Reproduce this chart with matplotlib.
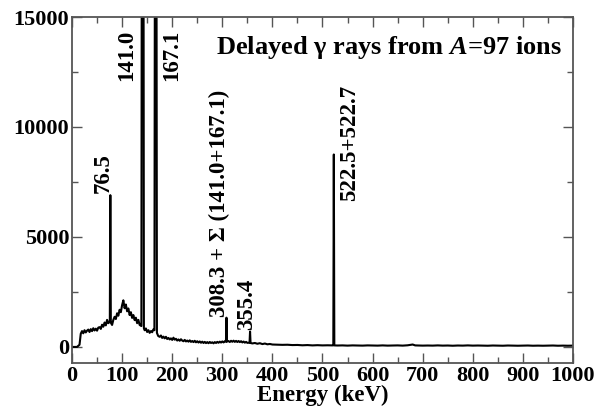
import numpy as np
import matplotlib
matplotlib.use("Agg")
import matplotlib.pyplot as plt
from matplotlib.ticker import MultipleLocator

plt.rcParams["font.family"] = ["Liberation Serif", "DejaVu Serif"]
plt.rcParams["font.weight"] = "bold"
plt.rcParams["mathtext.fontset"] = "custom"
plt.rcParams["mathtext.rm"] = "Liberation Serif:bold"
plt.rcParams["mathtext.it"] = "Liberation Serif:italic:bold"

# spectrum (keV, counts); peaks above 15000 are clipped
energy_low = [0, 5, 10, 15, 17.5, 20, 22.5, 25, 27.5, 30, 32.5, 35, 37.5, 40,
              42.5, 45, 47.5, 50, 52.5, 55, 57.5, 60, 62.5, 65, 67.5, 70, 72.5,
              75.5, 76.5, 77.5, 80, 82.5, 85, 87.5, 90, 92.5, 95, 97.5, 100,
              102.5, 105, 107.5, 110, 112.5, 115, 117.5, 120, 122.5, 125,
              127.5, 130, 132.5, 135, 138.5, 141.0, 143.5, 145, 147.5, 150,
              152.5, 155, 157.5, 160, 162.5, 164.5, 167.1, 169.5, 172, 175,
              177.5, 180, 182.5, 185, 187.5, 190, 192.5, 195, 197.5, 200]
counts_low = [0, 0, 0, 100, 600, 720, 620, 760, 660, 740, 790, 680, 810, 720,
              850, 750, 830, 740, 880, 900, 820, 1010, 920, 1110, 980, 1230,
              1080, 1150, 6900, 1100, 1000, 1230, 1370, 1270, 1530, 1420, 1690,
              1580, 1900, 2120, 1760, 1930, 1620, 1750, 1450, 1580, 1320, 1450,
              1220, 1330, 1080, 1230, 1000, 950, 60000, 850, 760, 840, 680,
              760, 640, 720, 670, 800, 760, 50000, 640, 500, 460, 520, 410,
              470, 390, 460, 360, 410, 340, 390, 320]

energy_mid = [202.5, 205, 207.5, 210, 212.5, 215, 217.5, 220, 222.5, 225,
              227.5, 230, 232.5, 235, 237.5, 240, 242.5, 245, 247.5, 250,
              252.5, 255, 257.5, 260, 262.5, 265, 267.5, 270, 272.5, 275,
              277.5, 280, 282.5, 285, 287.5, 290, 292.5, 295, 297.5, 300,
              302.5, 305, 307.3, 308.3, 309.3, 312, 315, 317.5, 320, 322.5,
              325, 327.5, 330, 332.5, 335, 337.5, 340, 342.5, 345, 347.5, 350,
              354.4, 355.4, 356.4, 360, 365, 370, 375, 380, 385, 390, 395, 400]
counts_mid = [420, 330, 370, 290, 340, 280, 350, 290, 260, 320, 250, 290, 240,
              300, 230, 270, 220, 280, 210, 260, 200, 250, 190, 240, 180, 230,
              175, 220, 170, 225, 180, 210, 165, 220, 180, 230, 190, 240, 200,
              250, 205, 260, 240, 1330, 240, 270, 225, 280, 235, 285, 230, 275,
              225, 270, 220, 260, 205, 245, 195, 230, 185, 195, 700, 180, 160,
              180, 145, 170, 130, 155, 120, 135, 110]

energy_high = [410, 420, 430, 440, 450, 460, 470, 480, 490, 500, 510, 520,
               521.6, 522.6, 523.6, 530, 540, 550, 560, 570, 580, 590, 600,
               610, 620, 630, 640, 650, 660, 670, 680, 685, 690, 700, 710, 720,
               730, 740, 750, 760, 770, 780, 790, 800, 810, 820, 830, 840, 850,
               860, 870, 880, 890, 900, 910, 920, 930, 940, 950, 960, 970, 980,
               990, 1000]
counts_high = [100, 95, 100, 85, 90, 75, 85, 70, 80, 70, 75, 70, 75, 8750, 70,
               65, 70, 60, 70, 65, 60, 70, 65, 60, 70, 60, 65, 70, 60, 75, 110,
               70, 65, 60, 65, 60, 70, 60, 65, 55, 65, 60, 70, 60, 65, 60, 55,
               65, 60, 55, 65, 60, 55, 60, 65, 55, 60, 55, 60, 65, 55, 60, 55,
               60]

energy = energy_low + energy_mid + energy_high
counts = counts_low + counts_mid + counts_high
assert len(energy) == len(counts)

# peak labels and where they sit (keV, counts)
peak_labels = ["76.5", "141.0", "167.1", "308.3 + \u03a3 (141.0+167.1)",
               "355.4", "522.5+522.7"]
label_x = [63, 110, 198, 295, 349, 555]
label_y = [7000, 14400, 14400, 1350, 760, 11900]
label_va = ["bottom", "top", "top", "bottom", "bottom", "top"]

fig = plt.figure(figsize=(6.01, 4.11), dpi=100)
ax = fig.add_axes([0.1198, 0.1168, 0.8336, 0.8418])

ax.plot(energy, counts, color="black", lw=1.5)

for txt, x, y, va in zip(peak_labels, label_x, label_y, label_va):
    ax.text(x, y, txt, rotation=90, ha="center", va=va, fontsize=16.5,
            fontweight="bold")

ax.text(0.978, 0.913, "Delayed \u03b3 rays from $A$=97 ions",
        transform=ax.transAxes, ha="right", va="center", fontsize=19,
        fontweight="bold")

ax.set_xlim(0, 1000)
ax.set_ylim(-730, 15000)
ax.xaxis.set_major_locator(MultipleLocator(100))
ax.xaxis.set_minor_locator(MultipleLocator(50))
ax.yaxis.set_major_locator(MultipleLocator(5000))
ax.yaxis.set_minor_locator(MultipleLocator(2500))
ax.tick_params(which="both", direction="in", top=True, right=True,
               color="#555555", labelsize=16, pad=2)
ax.tick_params(which="major", length=7, width=1)
ax.tick_params(which="minor", length=4, width=1)
for lbl in ax.get_xticklabels() + ax.get_yticklabels():
    lbl.set_fontweight("bold")
for sp in ax.spines.values():
    sp.set_color("#555555")
    sp.set_linewidth(1.3)

ax.set_xlabel("Energy (keV)", fontsize=16.5, fontweight="bold", labelpad=-1)

fig.savefig("out.png", dpi=100)
